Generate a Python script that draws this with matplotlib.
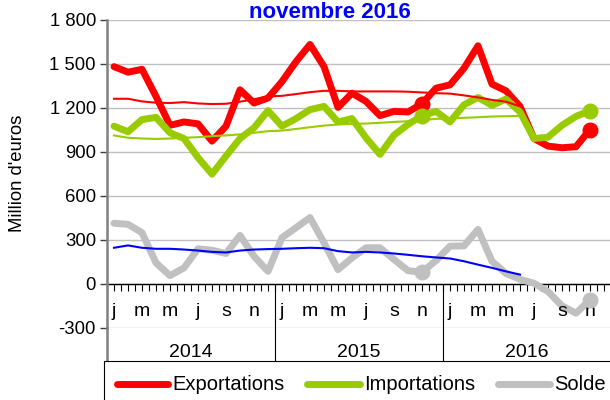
import matplotlib
matplotlib.use('Agg')
import matplotlib.pyplot as plt
from matplotlib.lines import Line2D
from matplotlib.patches import Rectangle
import numpy as np

plt.rcParams['font.family'] = ['Liberation Sans', 'DejaVu Sans']

# ---------------- data ----------------
month_letters = ['j', 'f', 'm', 'a', 'm', 'j', 'j', 'a', 's', 'o', 'n', 'd']
years = ['2014', '2015', '2016']

exports = [1482, 1444, 1464, 1279, 1082, 1105, 1092, 974, 1076, 1324, 1234, 1268,
           1380, 1516, 1633, 1482, 1204, 1301, 1245, 1148, 1177, 1173, 1229, 1335,
           1358, 1471, 1624, 1363, 1317, 1211, 992, 940, 929, 936, 1053]
imports = [1076, 1038, 1121, 1136, 1031, 992, 862, 749, 873, 992, 1065, 1182,
           1076, 1128, 1189, 1211, 1105, 1128, 997, 884, 1015, 1088, 1148, 1177,
           1105, 1222, 1272, 1218, 1261, 1173, 992, 1001, 1082, 1143, 1182]
solde = [414, 407, 350, 144, 57, 110, 240, 230, 208, 331, 189, 86,
         316, 384, 453, 281, 98, 178, 247, 247, 167, 91, 80, 160,
         258, 260, 372, 155, 72, 32, 5, -51, -149, -199, -108]

exp_trend = [1263, 1263, 1245, 1236, 1234, 1240, 1231, 1227, 1229, 1243, 1260, 1279,
             1283, 1295, 1308, 1317, 1317, 1313, 1313, 1313, 1313, 1311, 1306, 1301,
             1298, 1286, 1272, 1255, 1243, 1211]
imp_trend = [1013, 997, 992, 989, 992, 997, 1001, 1008, 1013, 1020, 1031, 1042,
             1046, 1057, 1069, 1080, 1088, 1092, 1094, 1099, 1105, 1110, 1117, 1126,
             1128, 1133, 1137, 1142, 1144, 1146]
solde_trend = [247, 263, 247, 240, 240, 235, 228, 219, 215, 228, 235, 238,
               240, 244, 247, 244, 224, 215, 219, 215, 208, 199, 189, 181,
               174, 155, 132, 110, 86, 64]

marker_idx = [22, 34]
yticks = [-300, 0, 300, 600, 900, 1200, 1500, 1800]
ytick_labels = ['-300', '0', '300', '600', '900', '1 200', '1 500', '1 800']
title = 'novembre 2016'
ylabel = "Million d'euros"
legend_labels = ['Exportations', 'Importations', 'Solde']

RED = '#FF0000'
GREEN = '#99CC00'
GRAY = '#C0C0C0'
BLUE = '#0000FF'
FS_Y = 13.3
FS_X = 14
FS_LEG = 14.5

# ---------------- figure ----------------
W, H = 610, 400
fig = plt.figure(figsize=(W / 100, H / 100), dpi=100)
ax = fig.add_axes([107 / W, (H - 328) / H, 504 / W, 308 / H])

n_months = len(years) * 12
ax.set_xlim(-0.5, n_months - 0.5)
ax.set_ylim(yticks[0], yticks[-1])

x = np.arange(len(exports))
xt = np.arange(len(exp_trend))

lw_thick = 5
kw = dict(solid_joinstyle='round', solid_capstyle='round')
ax.plot(x, exports, color=RED, lw=lw_thick, zorder=3, **kw)
ax.plot(x, imports, color=GREEN, lw=lw_thick, zorder=4, **kw)
ax.plot(x, solde, color=GRAY, lw=lw_thick, zorder=3, **kw)

ax.plot(xt, exp_trend, color=RED, lw=1.5, zorder=5)
ax.plot(xt, imp_trend, color=GREEN, lw=1.5, zorder=5)
ax.plot(xt, solde_trend, color=BLUE, lw=1.5, zorder=5)

for series, col in ((exports, RED), (imports, GREEN), (solde, GRAY)):
    ax.plot(marker_idx, [series[i] for i in marker_idx], 'o', color=col,
            markersize=11.5, markeredgewidth=0, zorder=6)

# axes styling
for s in ('top', 'right'):
    ax.spines[s].set_visible(False)
ax.spines['left'].set_color('#808080')
ax.spines['left'].set_linewidth(1.8)
ax.spines['bottom'].set_position(('data', 0))
ax.spines['bottom'].set_color('black')
ax.spines['bottom'].set_linewidth(1.0)
ax.spines['bottom'].set_zorder(2)

ax.set_yticks(yticks)
ax.set_yticklabels(ytick_labels, fontsize=FS_Y)
ax.tick_params(axis='y', length=5, width=1, color='#404040', pad=3)
ax.yaxis.grid(True, color='#C0C0C0', lw=1)
ax.set_axisbelow(True)

ax.set_xticks(np.arange(-0.5, n_months - 0.5 + 0.01, 0.5))
ax.set_xticklabels([])
ax.tick_params(axis='x', length=5, width=0.8, color='black', direction='out')

xtr = ax.get_xaxis_transform()
# month labels
for i in range(0, n_months, 2):
    ax.text(i, 0.055, month_letters[i % 12], transform=xtr, ha='center',
            va='center', fontsize=FS_X, clip_on=False)
# year labels and separators
for k, yr in enumerate(years):
    ax.text(12 * k + 5.5, -0.078, yr, transform=xtr, ha='center', va='center',
            fontsize=FS_X, clip_on=False)
for k in range(1, len(years) + 1):
    ax.add_line(Line2D([12 * k - 0.5] * 2, [0.143, -0.11], transform=xtr,
                       color='black', lw=0.8, clip_on=False))
ax.add_line(Line2D([0, 0], [0.0, -0.11], transform=ax.transAxes,
                   color='#808080', lw=1.8, clip_on=False))

# title and y label
fig.text(330 / W, 1 - 12 / H, title, color=BLUE, fontweight='bold',
         fontsize=16, ha='center', va='center')
fig.text(18 / W, 1 - 173 / H, ylabel, rotation=90, fontsize=FS_Y,
         ha='center', va='center')

# legend (manual)
fig.add_artist(Rectangle((104 / W, -0.01), 1.0, (H - 361) / H + 0.01,
                         transform=fig.transFigure, facecolor='white',
                         edgecolor='black', lw=0.8))
ly = 1 - 384 / H
for (x0, x1, tx), col, lab in zip(((117, 168, 172), (307, 360, 364), (498, 550, 554)),
                                  (RED, GREEN, GRAY), legend_labels):
    fig.add_artist(Line2D([x0 / W, x1 / W], [ly, ly], transform=fig.transFigure,
                          color=col, lw=lw_thick, solid_capstyle='round'))
    fig.text(tx / W, ly, lab, fontsize=FS_LEG, ha='left', va='center')

fig.savefig('out.png', dpi=100)
